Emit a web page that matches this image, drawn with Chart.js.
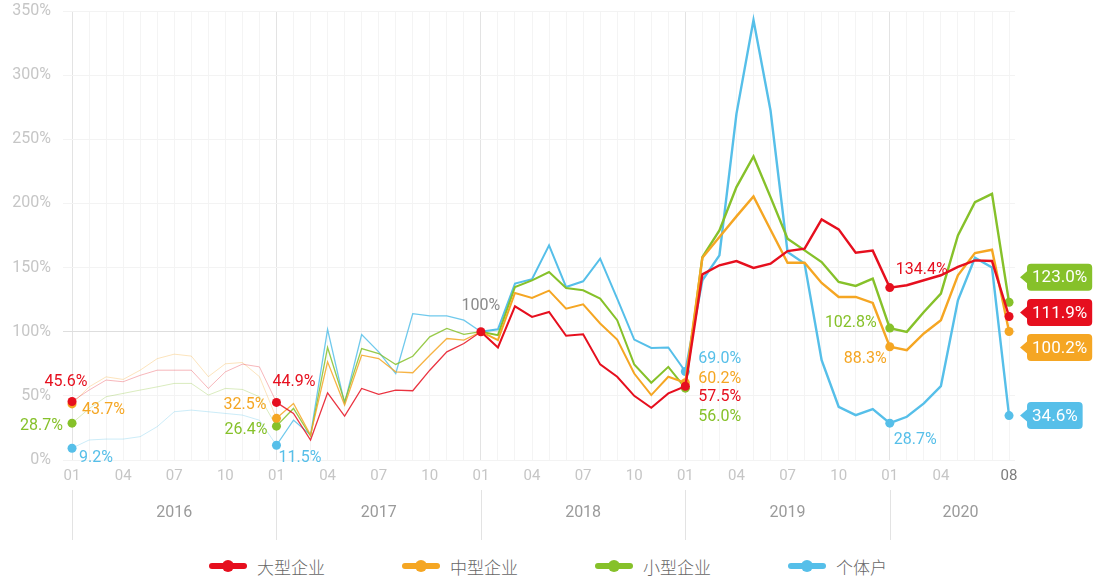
<!DOCTYPE html>
<html><head><meta charset="utf-8">
<script src="https://cdn.jsdelivr.net/npm/chart.js@4.4.1/dist/chart.umd.min.js"></script>
<style>
html,body{margin:0;padding:0;background:#fff;}
#wrap{position:relative;width:1093px;height:580px;overflow:hidden;}
#box{position:absolute;left:0;top:0;width:1093px;height:545px;}
#legend{position:absolute;left:0;top:548px;width:1093px;height:36px;display:flex;justify-content:center;align-items:center;font-family:'Noto Sans CJK SC',sans-serif;font-size:17px;font-weight:300;color:#666;}
.item{display:flex;align-items:center;margin:0 37px;}
.icon{position:relative;width:44px;height:12px;margin-right:7px;}
.icon .bar{position:absolute;left:3px;right:3px;top:3px;height:6px;border-radius:3px;}
.icon .dot{position:absolute;left:16px;top:0;width:12px;height:12px;border-radius:6px;}
</style></head>
<body>
<div id="wrap"><div id="box"><canvas id="c"></canvas></div><div id="legend"></div></div>
<script>
const seriesNames = ['大型企业','中型企业','小型企业','个体户'];
const seriesColors = ['#e60f1e','#f5a623','#86c12a','#56bfe9'];
const yearLabels = ['2016','2017','2018','2019','2020'];
const monthTickLabels = {1:'01',4:'04',7:'07',10:'10'};
const lastTickLabel = '08';
const yTicks = [0,50,100,150,200,250,300,350];

const largeEnt = [45.6,54.5,62.3,61,66,70,70,70,55.8,68.7,74.7,72.6,
 44.9,36.3,15.6,52.4,34.2,55.8,51.1,54.5,54,70,84.3,90.8,
 100,87.7,119.8,111.5,115.4,96.8,98,74.5,64.9,50,40.7,51.9,
 57.5,144.7,151.8,155.1,149.7,153,162.9,164.7,187.5,179.8,161.6,163.2,
 134.4,136.2,140.1,144,150.5,155.6,155.1,111.9];
const mediumEnt = [43.7,57,64.8,62.8,70,79,82.5,81,65,75,76,65,
 32.5,44.1,19.5,76.5,42.8,81.7,79.1,68.7,68,81.7,94.7,93.4,
 100,93.4,130.2,126.3,132,118,121.4,106.4,93.9,67.4,50.6,64.9,
 60.2,157.7,173.8,189.9,205.4,179.5,153.8,153.8,138,127.1,127.1,122.4,
 88.3,85.6,98.6,108.9,144,161.3,163.9,100.2];
const smallEnt = [28.7,40,49.3,51.9,54.5,57,59.7,59.7,50.6,55.8,55,49.3,
 26.4,40.2,18.7,87.7,45.4,86.9,83,74.5,80.9,96,102.5,98,
 100,97.3,134.9,140,146.5,134.1,132.3,125.8,109,74.5,60.2,72.6,
 56,158.2,179,212.7,236.6,204.9,172.5,163.4,154.3,138.8,135.7,141.4,
 102.8,99.9,115.4,129.7,175.1,201,207.5,123.0];
const individual = [9.2,15.6,16.3,16.3,18.2,26,37.6,38.9,37.6,36.3,35,31,
 11.5,31.1,19.5,101.9,44.1,97.8,84.3,67.4,114.1,112.3,112.3,109,
 100,101.9,137.5,140.9,167.3,134.9,139.3,156.9,125.8,93.9,87.4,87.7,
 69,140.1,159.5,269.8,342.9,272.4,162.1,153.1,77.8,41.5,35,39.7,
 28.7,33.7,44.1,57.6,124.5,157.7,150,34.6];
const seriesValues = [largeEnt, mediumEnt, smallEnt, individual];

const months = [];
yearLabels.forEach(y => { for (let m = 1; m <= 12; m++) months.push(y + '-' + String(m).padStart(2,'0')); });
months.length = largeEnt.length;

const dotIndices = [0,12,36,48,55];
const labelSpecs = [
 {ds:0,i:0,dx:-6,dy:-20,align:'center'},
 {ds:1,i:0,dx:10,dy:6,align:'left'},
 {ds:2,i:0,dx:-9,dy:3,align:'right'},
 {ds:3,i:0,dx:7,dy:10,align:'left'},
 {ds:0,i:12,dx:-4,dy:-20,align:'left'},
 {ds:1,i:12,dx:-10,dy:-13,align:'right'},
 {ds:2,i:12,dx:-9,dy:4,align:'right'},
 {ds:3,i:12,dx:2,dy:13,align:'left'},
 {ds:0,i:24,dx:0,dy:-26,align:'center',text:'100%',color:'#8a8a8a'},
 {ds:3,i:36,dx:13,dy:-12,align:'left'},
 {ds:1,i:36,dx:13,dy:-4,align:'left'},
 {ds:0,i:36,dx:13,dy:11,align:'left'},
 {ds:2,i:36,dx:13,dy:29,align:'left'},
 {ds:0,i:48,dx:6,dy:-18,align:'left'},
 {ds:2,i:48,dx:-13,dy:-5,align:'right'},
 {ds:1,i:48,dx:-3,dy:12,align:'right'},
 {ds:3,i:48,dx:4,dy:17,align:'left'}
];
const calloutSpecs = [{ds:2,dy:-25},{ds:0,dy:-4},{ds:1,dy:16},{ds:3,dy:0}];

function withAlpha(hex, a){
  const n = parseInt(hex.slice(1),16);
  return 'rgba(' + (n>>16) + ',' + ((n>>8)&255) + ',' + (n&255) + ',' + a + ')';
}

const datasets = seriesValues.map((vals, k) => {
  const col = seriesColors[k];
  return {
    label: seriesNames[k],
    data: vals.map((v,i) => ({x:i, y:v})),
    borderColor: col,
    backgroundColor: col,
    order: k,
    tension: 0,
    fill: false,
    pointRadius: c => (dotIndices.includes(c.dataIndex) || (k===0 && c.dataIndex===24)) ? 4.5 : 0,
    pointBackgroundColor: col,
    pointBorderWidth: 0,
    pointHoverRadius: 0,
    segment: {
      borderColor: c => c.p0DataIndex < 12 ? withAlpha(col,0.3) : (c.p0DataIndex < 24 ? withAlpha(col,0.85) : col),
      borderWidth: c => c.p0DataIndex < 12 ? 1 : (c.p0DataIndex < 24 ? 1.3 : (c.p0DataIndex < 36 ? 2 : 2.4))
    }
  };
});

const labelPlugin = {
  id: 'valueLabels',
  afterDatasetsDraw(chart){
    const ctx = chart.ctx, xs = chart.scales.x, ys = chart.scales.y;
    ctx.save();
    ctx.font = '16px Roboto';
    ctx.textBaseline = 'middle';
    labelSpecs.forEach(s => {
      const v = seriesValues[s.ds][s.i];
      const px = xs.getPixelForValue(s.i), py = ys.getPixelForValue(v);
      ctx.fillStyle = s.color || seriesColors[s.ds];
      ctx.textAlign = s.align;
      ctx.fillText(s.text || (v.toFixed(1) + '%'), px + s.dx, py + s.dy);
    });
    const li = largeEnt.length - 1;
    ctx.font = '17px Roboto';
    calloutSpecs.forEach(s => {
      const v = seriesValues[s.ds][li];
      const px = xs.getPixelForValue(li), py = ys.getPixelForValue(v) + s.dy;
      const txt = v.toFixed(1) + '%';
      const tw = ctx.measureText(txt).width;
      const left = px + 18, w = tw + 10, h = 27, top = py - h/2, r = 4;
      ctx.fillStyle = seriesColors[s.ds];
      ctx.beginPath();
      ctx.moveTo(left + r, top);
      ctx.lineTo(left + w - r, top);
      ctx.quadraticCurveTo(left + w, top, left + w, top + r);
      ctx.lineTo(left + w, top + h - r);
      ctx.quadraticCurveTo(left + w, top + h, left + w - r, top + h);
      ctx.lineTo(left + r, top + h);
      ctx.quadraticCurveTo(left, top + h, left, top + h - r);
      ctx.lineTo(left, py + 6);
      ctx.lineTo(px + 11, py);
      ctx.lineTo(left, py - 6);
      ctx.lineTo(left, top + r);
      ctx.quadraticCurveTo(left, top, left + r, top);
      ctx.closePath();
      ctx.fill();
      ctx.fillStyle = '#fff';
      ctx.textAlign = 'center';
      ctx.fillText(txt, left + w/2, py + 1);
    });
    ctx.restore();
  }
};

const yearPlugin = {
  id: 'yearRow',
  afterDraw(chart){
    const ctx = chart.ctx, xs = chart.scales.x;
    ctx.save();
    ctx.strokeStyle = '#e3e3e3';
    ctx.lineWidth = 1;
    ctx.fillStyle = '#9a9a9a';
    ctx.font = '16px Roboto';
    ctx.textAlign = 'center';
    ctx.textBaseline = 'middle';
    const last = months.length - 1;
    yearLabels.forEach((yr, k) => {
      const x0 = xs.getPixelForValue(k*12);
      const xl = Math.round(x0) + 0.5;
      ctx.beginPath(); ctx.moveTo(xl, 490); ctx.lineTo(xl, 540); ctx.stroke();
      const x1 = (k*12 + 12 <= last) ? xs.getPixelForValue(k*12 + 12) : xs.getPixelForValue(last) + 22;
      ctx.fillText(yr, (x0 + x1)/2, 513);
    });
    ctx.restore();
  }
};

new Chart(document.getElementById('c'), {
  type: 'line',
  data: { datasets },
  options: {
    responsive: true,
    maintainAspectRatio: false,
    animation: false,
    events: [],
    layout: { padding: { top: 11, right: 78, left: 0, bottom: 0 } },
    plugins: { legend: { display: false }, tooltip: { enabled: false } },
    scales: {
      x: {
        type: 'linear', min: -0.53, max: 55.35,
        afterBuildTicks: s => { s.ticks = months.map((_, i) => ({ value: i })); },
        afterFit: s => { s.height = 85; s.paddingLeft = 0; s.paddingRight = 0; },
        grid: { color: c => (c.tick && c.tick.value % 12 === 0) ? '#e3e3e3' : '#f4f4f4', drawTicks: false },
        border: { display: false },
        ticks: {
          autoSkip: false, maxRotation: 0, padding: 7,
          font: { family: 'Roboto', size: 15 },
          color: c => (c.tick && c.tick.value === months.length - 1) ? '#7d7d7d' : '#c6c6c6',
          callback: v => {
            if (v === months.length - 1) return lastTickLabel;
            const m = v % 12 + 1;
            if (v >= 48 && m > 4) return '';
            return monthTickLabels[m] || '';
          }
        }
      },
      y: {
        min: 0, max: 350,
        afterBuildTicks: s => { s.ticks = yTicks.map(v => ({ value: v })); },
        afterFit: s => { s.width = 63; s.paddingTop = 0; s.paddingBottom = 0; },
        grid: { color: c => (c.tick && c.tick.value === 100) ? '#dedede' : '#f3f3f3', drawTicks: false },
        border: { display: false },
        ticks: { padding: 12, font: { family: 'Roboto', size: 16 }, color: '#c6c6c6', callback: v => v + '%' }
      }
    }
  },
  plugins: [labelPlugin, yearPlugin]
});

const legend = document.getElementById('legend');
seriesNames.forEach((n, k) => {
  const it = document.createElement('div'); it.className = 'item';
  it.innerHTML = '<div class="icon"><div class="bar" style="background:' + seriesColors[k] + '"></div><div class="dot" style="background:' + seriesColors[k] + '"></div></div><span>' + n + '</span>';
  legend.appendChild(it);
});
</script>
</body></html>
